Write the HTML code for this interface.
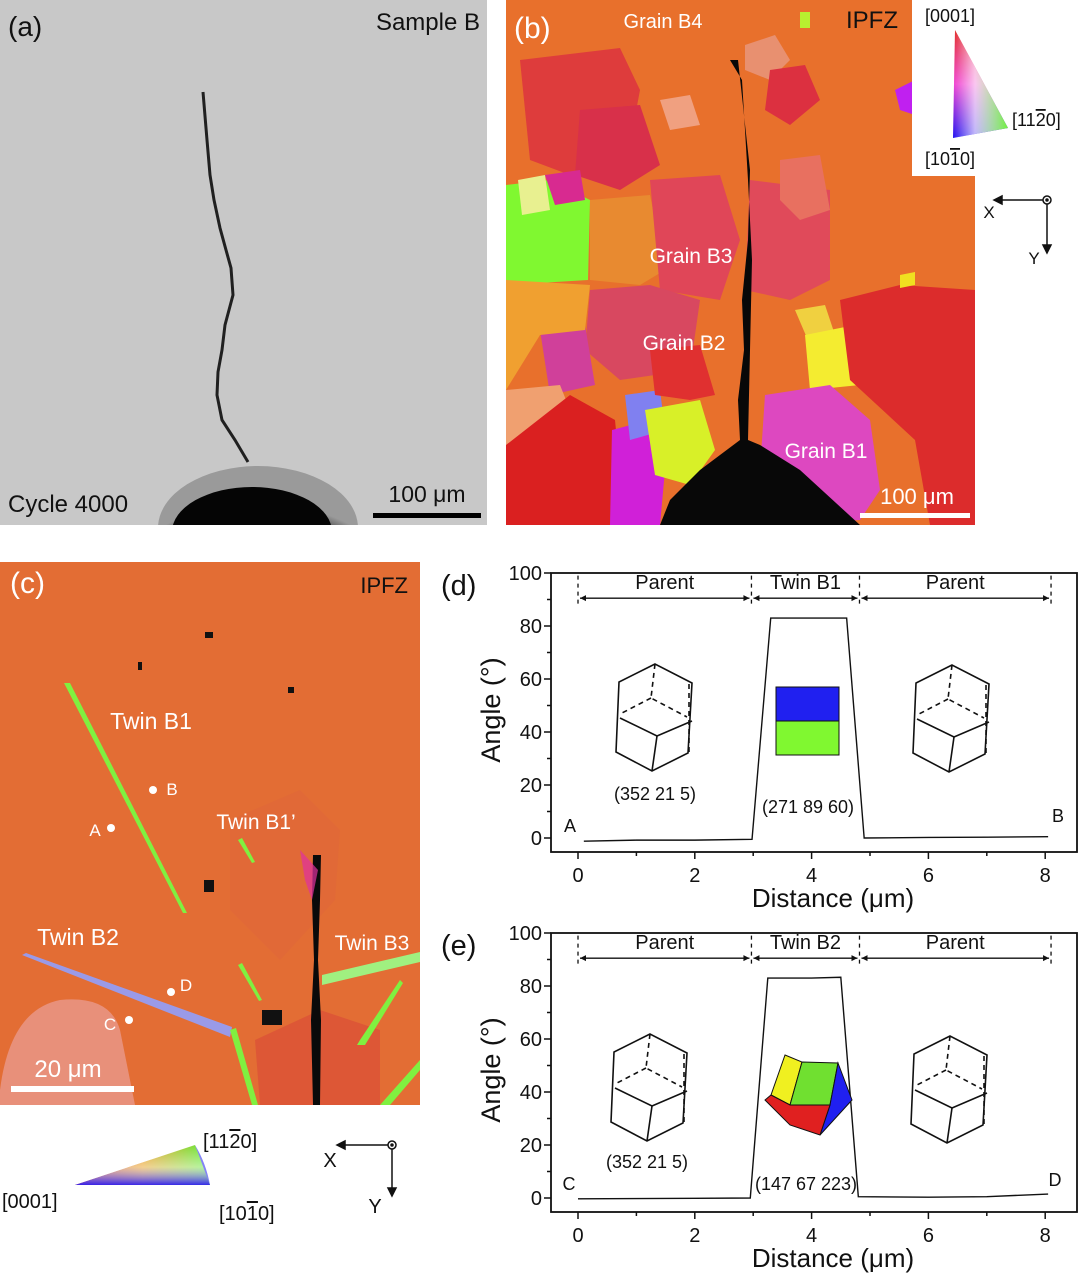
<!DOCTYPE html>
<html><head><meta charset="utf-8"><style>
html,body{margin:0;padding:0;background:#fff;}
svg{display:block;font-family:"Liberation Sans",Arial,sans-serif;}
.ov{text-decoration:overline;}
</style></head><body>
<svg id="fig" width="1080" height="1274" viewBox="0 0 1080 1274">
<defs>
<linearGradient id="ipfA" x1="0" y1="0" x2="0" y2="1"><stop offset="0" stop-color="#e0201c"/><stop offset="0.5" stop-color="#f040d0"/><stop offset="1" stop-color="#2010f0"/></linearGradient>
<linearGradient id="ipfB" x1="0" y1="0" x2="1" y2="0"><stop offset="0" stop-color="#fff" stop-opacity="0"/><stop offset="0.4" stop-color="#fff" stop-opacity="0.7"/><stop offset="1" stop-color="#70f040" stop-opacity="1"/></linearGradient>
<linearGradient id="ipfC" x1="0" y1="0" x2="1" y2="0"><stop offset="0" stop-color="#c01818"/><stop offset="0.5" stop-color="#e8a020"/><stop offset="1" stop-color="#60f040"/></linearGradient>
<linearGradient id="ipfD" x1="0" y1="0" x2="0" y2="1"><stop offset="0" stop-color="#fff" stop-opacity="0"/><stop offset="0.55" stop-color="#fff" stop-opacity="0.5"/><stop offset="1" stop-color="#3020f0" stop-opacity="0.95"/></linearGradient>
<radialGradient id="hole" cx="0.5" cy="1" r="0.7"><stop offset="0.7" stop-color="#0a0a0a"/><stop offset="0.85" stop-color="#444"/><stop offset="1" stop-color="#9a9a9a"/></radialGradient>
<clipPath id="clipA"><rect x="0" y="0" width="487" height="525"/></clipPath>
<clipPath id="clipC"><rect x="0" y="562" width="420" height="543"/></clipPath>
</defs>

<!-- Panel (a) -->
<g clip-path="url(#clipA)">
<rect x="0" y="0" width="487" height="525" fill="#c8c8c8"/>
<ellipse cx="258" cy="528" rx="100" ry="62" fill="url(#hole)"/>
<ellipse cx="252" cy="532" rx="80" ry="45" fill="#050505"/>
<polyline points="203,92 207,140 210,175 214,200 220,228 226,250 231,268 233,295 225,325 222,350 218,372 217,395 222,420 235,440 248,462" fill="none" stroke="#202020" stroke-width="3"/>
<text x="8" y="36" font-size="28" fill="#111">(a)</text>
<text x="480" y="30" font-size="24" fill="#111" text-anchor="end">Sample B</text>
<text x="8" y="512" font-size="24" fill="#111">Cycle 4000</text>
<rect x="373" y="513" width="108" height="5" fill="#000"/>
<text x="427" y="502" font-size="23" fill="#111" text-anchor="middle">100 μm</text>
</g>

<!-- Panel (b) -->
<g>
<rect x="506" y="0" width="469" height="525" fill="#e8702c"/>
<polygon points="520,60 620,48 640,90 625,170 570,175 530,160" fill="#de3c3c"/>
<polygon points="580,110 640,105 660,165 620,190 575,175" fill="#d8304a"/>
<polygon points="660,100 690,95 700,125 670,130" fill="#f0a080"/>
<polygon points="745,45 775,35 790,60 770,80 745,70" fill="#e89070"/>
<polygon points="770,70 805,65 820,100 790,125 765,110" fill="#dc3040"/>
<polygon points="895,90 915,80 915,115 900,110" fill="#c020f0"/>
<polygon points="506,185 550,180 590,200 588,280 506,285" fill="#80f830"/>
<polygon points="518,180 545,175 550,210 522,215" fill="#e8f090"/>
<polygon points="545,175 580,170 585,200 555,205" fill="#d82a90"/>
<polygon points="590,200 650,195 665,270 640,285 590,280" fill="#e88a30"/>
<polygon points="650,180 720,175 740,240 720,300 660,290" fill="#e04658"/>
<polygon points="750,180 830,190 830,280 790,300 745,290" fill="#e04a5a"/>
<polygon points="780,160 820,155 830,210 800,220 780,200" fill="#e87060"/>
<polygon points="590,290 650,285 700,300 690,370 620,380 585,350" fill="#d84860"/>
<polygon points="540,330 585,325 595,385 550,395" fill="#d0409a"/>
<polygon points="506,280 590,285 585,330 540,335 506,390" fill="#f0a030"/>
<polygon points="506,390 560,385 570,410 540,450 506,450" fill="#f0a070"/>
<polygon points="506,445 570,395 615,420 625,525 506,525" fill="#da2020"/>
<polygon points="612,430 650,420 665,470 660,525 610,525" fill="#d020d8"/>
<polygon points="625,395 660,390 665,430 630,440" fill="#8080f0"/>
<polygon points="645,410 700,400 715,450 690,485 655,475" fill="#d8f028"/>
<polygon points="650,350 700,345 715,395 690,400 655,395" fill="#e03030"/>
<polygon points="795,310 825,305 835,335 810,345" fill="#f0d040"/>
<polygon points="805,335 855,325 860,385 810,390" fill="#f4ec30"/>
<polygon points="840,300 900,285 975,290 975,525 930,525 915,440 850,380" fill="#dc2c2c"/>
<polygon points="765,395 830,385 870,420 880,490 860,520 790,525 760,470" fill="#dd48c0"/>
<polygon points="900,275 915,272 915,285 900,288" fill="#f0e020"/>
<polygon points="730,60 738,60 750,170 748,240 742,300 744,350 738,400 740,440 700,470 670,500 660,525 860,525 800,470 760,445 748,440 750,350 752,260 748,180 742,80" fill="#080808"/>
<polygon points="800,12 810,12 810,28 800,28" fill="#b8f030"/>
<text x="514" y="38" font-size="30" fill="#fff">(b)</text>
<text x="663" y="28" font-size="20" fill="#fff" text-anchor="middle">Grain B4</text>
<text x="898" y="28" font-size="24" fill="#111" text-anchor="end">IPFZ</text>
<text x="691" y="263" font-size="21" fill="#fff" text-anchor="middle">Grain B3</text>
<text x="684" y="350" font-size="21" fill="#fff" text-anchor="middle">Grain B2</text>
<text x="826" y="458" font-size="21" fill="#fff" text-anchor="middle">Grain B1</text>
<rect x="860" y="513" width="110" height="5" fill="#fff"/>
<text x="917" y="504" font-size="22" fill="#fff" text-anchor="middle">100 μm</text>
</g>

<!-- IPF legend top right -->
<g>
<rect x="912" y="0" width="168" height="176" fill="#fff"/>
<polygon points="955,30 1008,128 953,138" fill="url(#ipfA)"/>
<polygon points="955,30 1008,128 953,138" fill="url(#ipfB)"/>
<text x="950" y="22" font-size="18" fill="#111" text-anchor="middle">[0001]</text>
<text x="1012" y="126" font-size="18" fill="#111">[11<tspan class="ov">2</tspan>0]</text>
<text x="950" y="165" font-size="18" fill="#111" text-anchor="middle">[10<tspan class="ov">1</tspan>0]</text>
</g>
<g stroke="#111" stroke-width="1.5" fill="none">
<circle cx="1047" cy="200" r="4"/><circle cx="1047" cy="200" r="1" fill="#111"/>
<line x1="1043" y1="200" x2="998" y2="200"/><polygon points="994,200 1002,196 1002,204" fill="#111"/>
<line x1="1047" y1="204" x2="1047" y2="248"/><polygon points="1047,253 1043,245 1051,245" fill="#111"/>
</g>
<text x="989" y="218" font-size="17" fill="#111" text-anchor="middle">X</text>
<text x="1034" y="264" font-size="17" fill="#111" text-anchor="middle">Y</text>

<!-- Panel (c) -->
<g clip-path="url(#clipC)">
<rect x="0" y="562" width="420" height="543" fill="#e36d34"/>
<polygon points="230,820 300,790 340,830 335,900 280,960 230,910" fill="#dc6040" opacity="0.35"/>
<polygon points="255,1040 320,1010 380,1030 380,1105 260,1105" fill="#d84a38" opacity="0.6"/>
<path d="M0,1090 Q10,1010 60,1000 Q110,995 120,1030 L135,1105 L0,1105 Z" fill="#e8907a"/>
<polygon points="64,683 70,683 187,913 183,913" fill="#80f040"/>
<polygon points="22,955 26,953 232,1027 230,1037" fill="#9a9ae8"/>
<polygon points="322,975 420,952 420,962 322,985" fill="#a0f080"/>
<polygon points="238,840 242,838 255,862 252,863" fill="#80f040"/>
<polygon points="238,965 242,963 262,1000 259,1001" fill="#80f040"/>
<polygon points="230,1030 236,1028 258,1105 252,1105" fill="#80f040"/>
<polygon points="357,1045 360,1040 400,980 403,983 365,1045" fill="#80f040"/>
<polygon points="380,1105 420,1060 420,1070 390,1105" fill="#80f040"/>
<polygon points="313,855 321,855 320,900 318,960 321,1020 320,1105 313,1105 311,1020 314,960 312,900" fill="#0a0a0a"/>
<polygon points="300,850 318,870 312,900 305,880" fill="#e030a0" opacity="0.7"/>
<rect x="205" y="632" width="8" height="6" fill="#111"/><rect x="138" y="662" width="4" height="8" fill="#111"/><rect x="204" y="880" width="10" height="12" fill="#111"/><rect x="262" y="1010" width="20" height="15" fill="#111"/><rect x="288" y="687" width="6" height="6" fill="#111"/>
<text x="10" y="593" font-size="30" fill="#fff">(c)</text>
<text x="408" y="593" font-size="22" fill="#111" text-anchor="end">IPFZ</text>
<text x="151" y="729" font-size="23" fill="#fff" text-anchor="middle">Twin B1</text>
<text x="256" y="829" font-size="21" fill="#fff" text-anchor="middle">Twin B1’</text>
<text x="78" y="945" font-size="23" fill="#fff" text-anchor="middle">Twin B2</text>
<text x="372" y="950" font-size="21" fill="#fff" text-anchor="middle">Twin B3</text>
<circle cx="111" cy="828" r="4" fill="#fff"/><text x="95" y="836" font-size="17" fill="#fff" text-anchor="middle">A</text>
<circle cx="153" cy="790" r="4" fill="#fff"/><text x="172" y="795" font-size="17" fill="#fff" text-anchor="middle">B</text>
<circle cx="129" cy="1020" r="4" fill="#fff"/><text x="110" y="1030" font-size="17" fill="#fff" text-anchor="middle">C</text>
<circle cx="171" cy="992" r="4" fill="#fff"/><text x="186" y="991" font-size="17" fill="#fff" text-anchor="middle">D</text>
<rect x="11" y="1086" width="123" height="6" fill="#fff"/>
<text x="68" y="1077" font-size="24" fill="#fff" text-anchor="middle">20 μm</text>
</g>

<!-- IPF legend bottom -->
<g>
<polygon points="75,1185 195,1145 210,1185" fill="url(#ipfC)"/>
<polygon points="75,1185 195,1145 210,1185" fill="url(#ipfD)"/>
<path d="M195,1145 Q206,1163 210,1185" fill="#3030f0" opacity="0.6"/>
<text x="2" y="1208" font-size="20" fill="#111">[0001]</text>
<text x="203" y="1148" font-size="20" fill="#111">[11<tspan class="ov">2</tspan>0]</text>
<text x="219" y="1220" font-size="20" fill="#111">[10<tspan class="ov">1</tspan>0]</text>
</g>
<g stroke="#111" stroke-width="1.5" fill="none">
<circle cx="392" cy="1145" r="4"/><circle cx="392" cy="1145" r="1" fill="#111"/>
<line x1="388" y1="1145" x2="342" y2="1145"/><polygon points="337,1145 345,1141 345,1149" fill="#111"/>
<line x1="392" y1="1149" x2="392" y2="1190"/><polygon points="392,1196 388,1188 396,1188" fill="#111"/>
</g>
<text x="330" y="1167" font-size="20" fill="#111" text-anchor="middle">X</text>
<text x="375" y="1213" font-size="20" fill="#111" text-anchor="middle">Y</text>

<g id="charts"></g>
</svg>
<script>
// chart data (d) and (e)
var distD = [0.1, 1.0, 2.0, 2.98, 3.3, 4.0, 4.6, 4.9, 6.0, 7.0, 8.05];
var angleD = [-1.2, -0.8, -0.8, -0.5, 83, 83, 83, 0, 0.2, 0.3, 0.5];
var distE = [0.0, 1.0, 2.0, 2.95, 3.25, 4.0, 4.5, 4.8, 6.0, 7.0, 8.05];
var angleE = [-0.3, -0.2, -0.1, 0, 83, 83, 83.3, 0.5, 0.3, 0.5, 1.5];
var xTicks = [0, 2, 4, 6, 8];
var yTicks = [0, 20, 40, 60, 80, 100];
var regionBounds = [0, 2.97, 4.82, 8.1];
var regionsD = ["Parent", "Twin B1", "Parent"];
var regionsE = ["Parent", "Twin B2", "Parent"];

var NS = "http://www.w3.org/2000/svg";
var root = document.getElementById("charts");
function mk(tag, attrs, parent, txt) {
  var e = document.createElementNS(NS, tag);
  for (var k in attrs) e.setAttribute(k, attrs[k]);
  if (txt !== undefined) e.textContent = txt;
  parent.appendChild(e);
  return e;
}
function prism(g, tx, ty) {
  var p = mk("g", {transform: "translate(" + tx + "," + ty + ")", fill: "none", stroke: "#111", "stroke-width": "1.6"}, g);
  
  
  mk("polygon", {points: "0,0 -36,18 -39,88 -3,107 33,89 37,19"}, p);
  mk("polyline", {points: "-35,54 2,72 37,57"}, p);
  mk("line", {x1: 2, y1: 72, x2: -3, y2: 107}, p);
  mk("polyline", {points: "-4,34 -33,49", "stroke-dasharray": "5,4"}, p);
  mk("polyline", {points: "0,0 -4,34 32,53", "stroke-dasharray": "5,4"}, p);
  mk("line", {x1: 34, y1: 20, x2: 34, y2: 88, "stroke-dasharray": "5,4"}, p);
}
function chart(name, top, label, dist, ang, regions, notes) {
  var g = mk("g", {}, root);
  
  
  var L = 551, R = 1077, T = top, B = top + 279;
  var y0 = top + 265;
  function xs(v) { return 578 + v * 58.4; }
  function ys(v) { return y0 - v * 2.65; }
  var box = mk("rect", {x: L, y: T, width: R - L, height: B - T, fill: "none", stroke: "#111", "stroke-width": "1.8"}, g);
  
  
  var lab = mk("text", {x: 441, y: top + 22, "font-size": 29, fill: "#111"}, g, label);
  
  
  for (var i = 0; i <= 8; i++) {
    var major = (i % 2 === 0);
    mk("line", {x1: xs(i), y1: B, x2: xs(i), y2: B + (major ? 7 : 4), stroke: "#111", "stroke-width": 1.5}, g);
  }
  xTicks.forEach(function (v) {
    var t = mk("text", {x: xs(v), y: B + 30, "font-size": 20, fill: "#111", "text-anchor": "middle"}, g, String(v));
    
    
  });
  for (var j = 0; j <= 10; j++) {
    var mj = (j % 2 === 0);
    mk("line", {x1: L, y1: ys(j * 10), x2: L - (mj ? 7 : 4), y2: ys(j * 10), stroke: "#111", "stroke-width": 1.5}, g);
  }
  yTicks.forEach(function (v) {
    var t = mk("text", {x: L - 9, y: ys(v) + 7, "font-size": 20, fill: "#111", "text-anchor": "end"}, g, String(v));
    
    
  });
  var yt = mk("text", {x: 0, y: 0, "font-size": 27, fill: "#111", "text-anchor": "middle", transform: "translate(500," + (top + 137) + ") rotate(-90)"}, g, "Angle (°)");
  
  
  var xt = mk("text", {x: 833, y: B + 55, "font-size": 26, fill: "#111", "text-anchor": "middle"}, g, "Distance (μm)");
  
  
  var ay = ys(90.5);
  regionBounds.forEach(function (v) {
    var dl = mk("line", {x1: xs(v), y1: ys(99), x2: xs(v), y2: ys(88), stroke: "#111", "stroke-width": 1.3, "stroke-dasharray": "4,4"}, g);
    
    
  });
  for (var r = 0; r < regions.length; r++) {
    var a = xs(regionBounds[r]) + 2, b = xs(regionBounds[r + 1]) - 2;
    var ln = mk("line", {x1: a, y1: ay, x2: b, y2: ay, stroke: "#111", "stroke-width": 1.3}, g);
    
    
    mk("polygon", {points: a + "," + ay + " " + (a + 6) + "," + (ay - 3) + " " + (a + 6) + "," + (ay + 3), fill: "#111"}, g);
    mk("polygon", {points: b + "," + ay + " " + (b - 6) + "," + (ay - 3) + " " + (b - 6) + "," + (ay + 3), fill: "#111"}, g);
    var rt = mk("text", {x: (a + b) / 2, y: ys(94), "font-size": 20, fill: "#111", "text-anchor": "middle"}, g, regions[r]);
    
    
  }
  var pts = dist.map(function (d, k) { return xs(d) + "," + ys(ang[k]); }).join(" ");
  var line = mk("polyline", {points: pts, fill: "none", stroke: "#111", "stroke-width": 1.4}, g);
  
  
  notes(g, ys);
}
chart("chart-d", 573, "(d)", distD, angleD, regionsD, function (g, ys) {
  prism(g, 655, 664);
  prism(g, 952, 665);
  var bl = mk("rect", {x: 776, y: 687, width: 63, height: 34, fill: "#2020f0", stroke: "#111", "stroke-width": 1}, g);
  
  
  var gr = mk("rect", {x: 776, y: 721, width: 63, height: 34, fill: "#80f830", stroke: "#111", "stroke-width": 1}, g);
  
  
  mk("text", {x: 655, y: 800, "font-size": 18, fill: "#111", "text-anchor": "middle"}, g, "(352 21 5)");
  mk("text", {x: 808, y: 813, "font-size": 18, fill: "#111", "text-anchor": "middle"}, g, "(271 89 60)");
  mk("text", {x: 570, y: 832, "font-size": 18, fill: "#111", "text-anchor": "middle"}, g, "A");
  mk("text", {x: 1058, y: 822, "font-size": 18, fill: "#111", "text-anchor": "middle"}, g, "B");
});
chart("chart-e", 933, "(e)", distE, angleE, regionsE, function (g, ys) {
  prism(g, 650, 1034);
  prism(g, 950, 1036);
  var c = mk("g", {stroke: "#111", "stroke-width": 1}, g);
  
  
  mk("polygon", {points: "785,1055 802,1062 790,1105 771,1095", fill: "#f0f020"}, c);
  mk("polygon", {points: "802,1062 838,1063 830,1105 790,1105", fill: "#70e030"}, c);
  mk("polygon", {points: "838,1063 852,1100 820,1135 830,1105", fill: "#2020f0"}, c);
  mk("polygon", {points: "771,1095 790,1105 830,1105 820,1135 790,1125 765,1100", fill: "#e02020"}, c);
  mk("text", {x: 647, y: 1168, "font-size": 18, fill: "#111", "text-anchor": "middle"}, g, "(352 21 5)");
  mk("text", {x: 806, y: 1190, "font-size": 18, fill: "#111", "text-anchor": "middle"}, g, "(147 67 223)");
  mk("text", {x: 569, y: 1190, "font-size": 18, fill: "#111", "text-anchor": "middle"}, g, "C");
  mk("text", {x: 1055, y: 1186, "font-size": 18, fill: "#111", "text-anchor": "middle"}, g, "D");
});
</script>
</body></html>
